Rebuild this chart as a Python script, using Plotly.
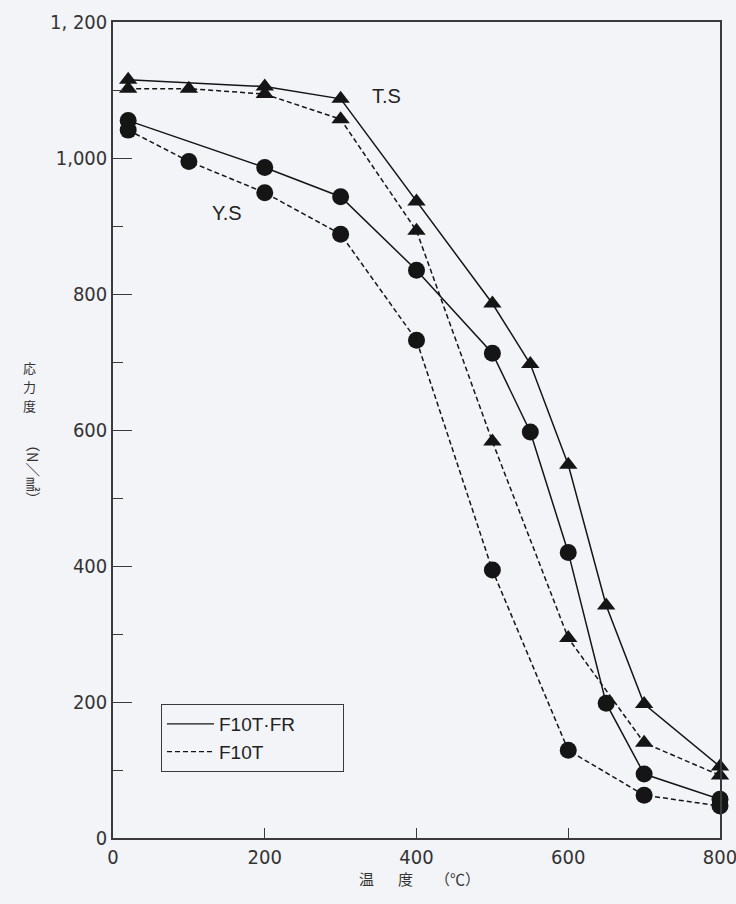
import plotly.graph_objects as go

# ---- data ----
ts_fr_x = [20, 200, 300, 400, 500, 550, 600, 650, 700, 800]
ts_fr_y = [1115, 1105, 1087, 936, 786, 697, 549, 342, 197, 105]

ts_x = [20, 100, 200, 300, 400, 500, 600, 700, 800]
ts_y = [1102, 1102, 1094, 1057, 893, 583, 294, 140, 92]

ys_fr_x = [20, 200, 300, 400, 500, 550, 600, 650, 700, 800]
ys_fr_y = [1055, 986, 943, 835, 713, 597, 420, 198, 94, 57]

ys_x = [20, 100, 200, 300, 400, 500, 600, 700, 800]
ys_y = [1041, 995, 949, 888, 732, 394, 129, 63, 47]

series_names = ["F10T\u00b7FR", "F10T"]

x_tickvals = [0, 200, 400, 600, 800]
x_ticktext = ["0", "200", "400", "600", "800"]
y_tickvals = [0, 200, 400, 600, 800, 1000, 1200]
y_ticktext = ["0", "200", "400", "600", "800", "1,000", "1, 200"]

# ---- styles ----
BG = "#f3f4f8"
INK = "#151515"
AX = "#3a3a3a"
TICKFONT = dict(family="DejaVu Sans Condensed, Liberation Sans Narrow, Roboto Condensed, Arial Narrow, Roboto, sans-serif",
                size=20, color="#333333")
CJK = "Noto Sans CJK JP"
LATIN = "Liberation Sans, Arial, sans-serif"
DASH = "5px,3px"
PAD = "\u00a0" * 8  # widens the legend box like the reference

fig = go.Figure()

def add(x, y, symbol, size, dash):
    fig.add_trace(go.Scatter(
        x=x, y=y, mode="lines+markers", showlegend=False,
        line=dict(color=INK, width=1.5, dash=dash),
        marker=dict(symbol=symbol, size=size, color=INK, line=dict(width=0)),
        cliponaxis=False,
    ))

add(ts_x, ts_y, "triangle-up", 16, DASH)
add(ys_x, ys_y, "circle", 17, DASH)
add(ts_fr_x, ts_fr_y, "triangle-up", 16, "solid")
add(ys_fr_x, ys_fr_y, "circle", 17, "solid")

# legend entries (lines only)
for name, dash in zip(series_names, ["solid", DASH]):
    fig.add_trace(go.Scatter(x=[None], y=[None], mode="lines", name=name + PAD,
                             line=dict(color=INK, width=1.3, dash=dash)))

annotations = [
    dict(text="T.S", x=361, y=1091, xref="x", yref="y", showarrow=False,
         font=dict(family=LATIN, size=20, color="#222")),
    dict(text="Y.S", x=150, y=919, xref="x", yref="y", showarrow=False,
         font=dict(family=LATIN, size=20, color="#222")),
    dict(text="（N／㎟）", x=21, y=471, xref="paper", yref="paper", showarrow=False,
         textangle=90, font=dict(family=CJK, size=14.5, color="#333")),
]
# y-axis title (vertical writing, upright characters)
for ch, ypx in zip(["応", "力", "度"], [367, 386, 405]):
    annotations.append(dict(text=ch, x=21, y=ypx, xref="paper", yref="paper", showarrow=False,
                            font=dict(family=CJK, size=13, color="#333")))
# x-axis title
for t, xpx in zip(["温", "度", "（℃）"], [366.5, 405, 457]):
    annotations.append(dict(text=t, x=xpx, y=891, xref="paper", yref="paper", showarrow=False,
                            font=dict(family=CJK, size=15, color="#333")))

# convert pixel positions of paper annotations
L, R, T, B = 113, 16, 22, 66
W, H = 736, 904
pw, ph = W - L - R, H - T - B
for a in annotations:
    if a["xref"] == "paper":
        a["x"] = (a["x"] - L) / pw
        a["y"] = (H - B - a["y"]) / ph

fig.update_layout(
    width=W, height=H,
    margin=dict(l=L, r=R, t=T, b=B, autoexpand=False),
    paper_bgcolor=BG, plot_bgcolor=BG,
    annotations=annotations,
    legend=dict(x=(161 - L) / pw, y=(H - B - 704) / ph, xanchor="left", yanchor="top",
                bgcolor="rgba(0,0,0,0)", bordercolor=AX, borderwidth=1,
                font=dict(family=LATIN, size=19, color="#222"),
                itemwidth=47, tracegroupgap=0),
)
fig.update_xaxes(range=[0, 800], tickvals=x_tickvals, ticktext=x_ticktext,
                 ticks="inside", ticklen=10, tickcolor=AX, tickwidth=1.2,
                 showline=True, linecolor=AX, linewidth=1.5, mirror=True,
                 showgrid=False, zeroline=False, tickfont=TICKFONT,
                 ticklabeloverflow="allow", automargin=False)
fig.update_yaxes(range=[0, 1200], tickvals=y_tickvals, ticktext=y_ticktext,
                 ticks="inside", ticklen=19, tickcolor=AX, tickwidth=1.2,
                 minor=dict(dtick=100, tick0=0, ticks="inside", ticklen=10, tickcolor=AX, tickwidth=1.2),
                 showline=True, linecolor=AX, linewidth=1.5, mirror=True,
                 showgrid=False, zeroline=False, tickfont=TICKFONT,
                 ticklabeloverflow="allow", automargin=False)

fig.write_html("out.html", config={"displayModeBar": False},
               post_script="document.body.style.margin='0';document.body.style.background='%s';" % BG)
